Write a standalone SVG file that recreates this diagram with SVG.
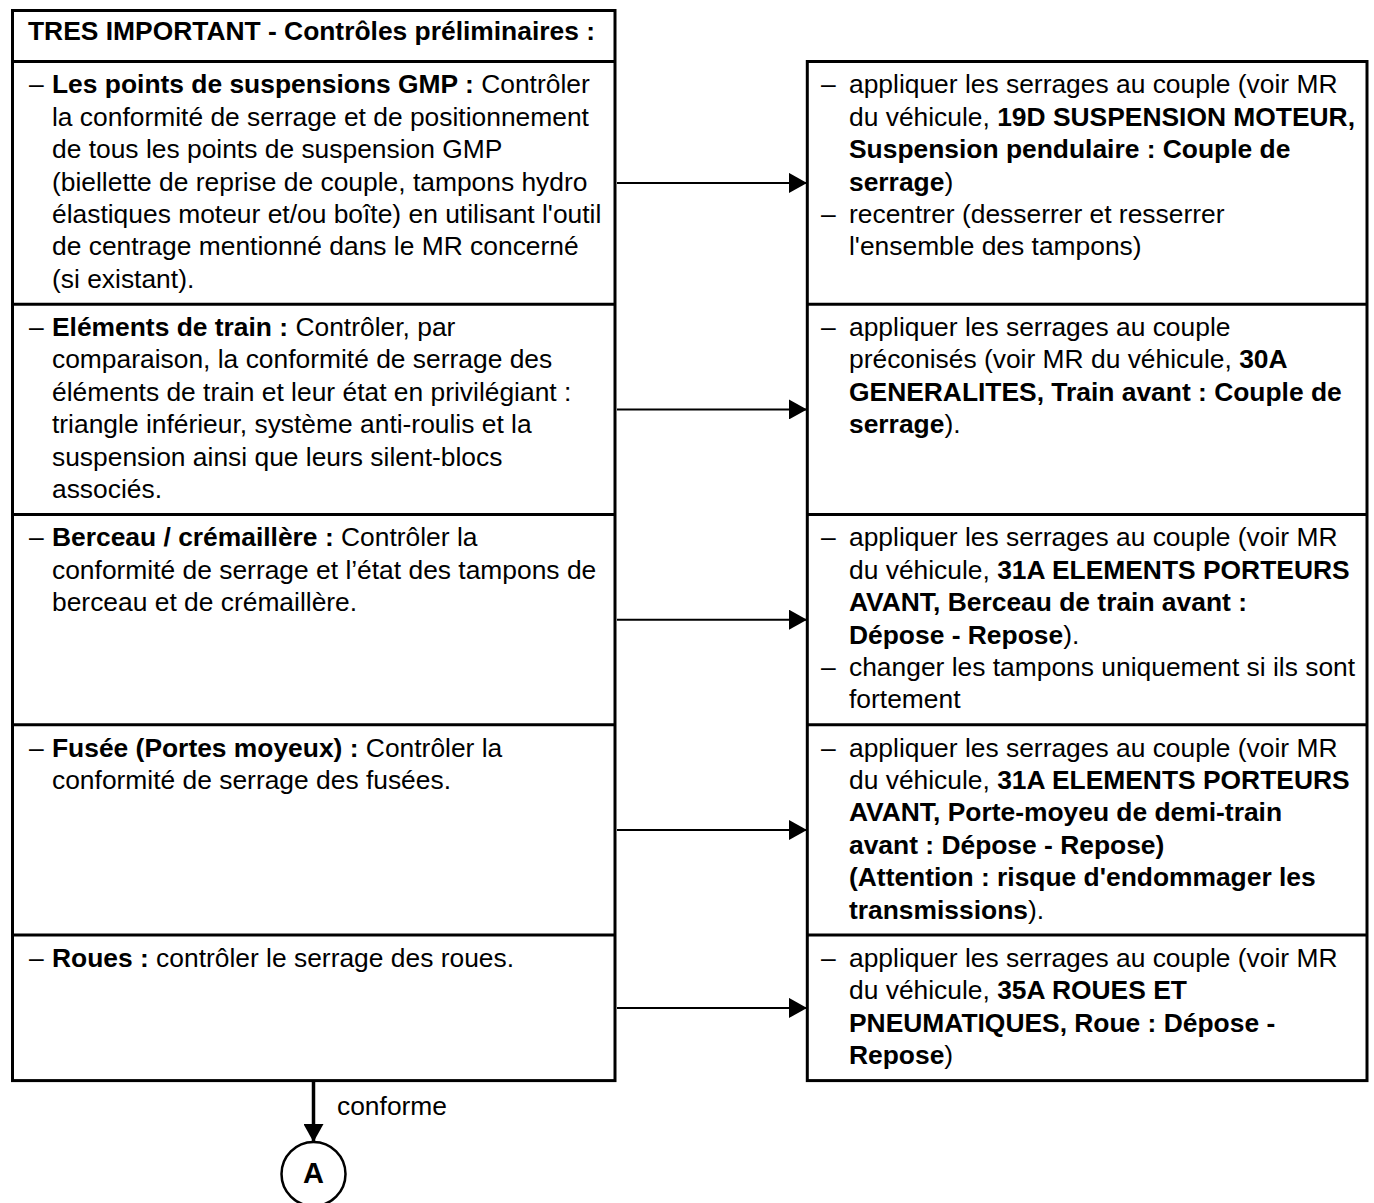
<svg xmlns="http://www.w3.org/2000/svg" width="1374" height="1203" viewBox="0 0 1374 1203">
<style>
text{font-family:"Liberation Sans",Arial,sans-serif;font-size:26.4px;fill:#000}
.b{font-weight:bold}
.box{fill:#fff;stroke:#000;stroke-width:3}
.div{stroke:#000;stroke-width:3}
.con{stroke:#000;stroke-width:2;fill:none}
</style>
<defs>
<marker id="ah" markerUnits="userSpaceOnUse" markerWidth="18" markerHeight="20" refX="18" refY="10" orient="auto">
<path d="M0,0 L18,10 L0,20 Z" fill="#000"/>
</marker>
</defs>
<rect width="1374" height="1203" fill="#fff"/>

<g id="left">
<rect class="box" x="12.5" y="10.5" width="602.5" height="1070.1"/>
<line class="div" x1="12.5" y1="61.5" x2="615" y2="61.5"/>
<line class="div" x1="12.5" y1="304.2" x2="615" y2="304.2"/>
<line class="div" x1="12.5" y1="514.5" x2="615" y2="514.5"/>
<line class="div" x1="12.5" y1="724.8" x2="615" y2="724.8"/>
<line class="div" x1="12.5" y1="935.1" x2="615" y2="935.1"/>
</g>
<g id="right">
<rect class="box" x="807.3" y="61.5" width="559.7" height="1019.1"/>
<line class="div" x1="807.3" y1="304.2" x2="1367" y2="304.2"/>
<line class="div" x1="807.3" y1="514.5" x2="1367" y2="514.5"/>
<line class="div" x1="807.3" y1="724.8" x2="1367" y2="724.8"/>
<line class="div" x1="807.3" y1="935.1" x2="1367" y2="935.1"/>
</g>

<g id="header"><text class="b" x="28" y="40">TRES IMPORTANT - Contrôles préliminaires :</text></g>

<g id="check1">
<text x="29" y="93.3">–</text>
<text x="52" y="93.3"><tspan class="b">Les points de suspensions GMP :</tspan> Contrôler</text>
<text x="52" y="125.7">la conformité de serrage et de positionnement</text>
<text x="52" y="158.1">de tous les points de suspension GMP</text>
<text x="52" y="190.5">(biellette de reprise de couple, tampons hydro</text>
<text x="52" y="222.9">élastiques moteur et/ou boîte) en utilisant l'outil</text>
<text x="52" y="255.3">de centrage mentionné dans le MR concerné</text>
<text x="52" y="287.7">(si existant).</text>
</g>
<g id="check2">
<text x="29" y="336">–</text>
<text x="52" y="336"><tspan class="b">Eléments de train :</tspan> Contrôler, par</text>
<text x="52" y="368.4">comparaison, la conformité de serrage des</text>
<text x="52" y="400.8">éléments de train et leur état en privilégiant :</text>
<text x="52" y="433.2">triangle inférieur, système anti-roulis et la</text>
<text x="52" y="465.6">suspension ainsi que leurs silent-blocs</text>
<text x="52" y="498">associés.</text>
</g>
<g id="check3">
<text x="29" y="546.3">–</text>
<text x="52" y="546.3"><tspan class="b">Berceau / crémaillère :</tspan> Contrôler la</text>
<text x="52" y="578.7">conformité de serrage et l’état des tampons de</text>
<text x="52" y="611.1">berceau et de crémaillère.</text>
</g>
<g id="check4">
<text x="29" y="756.6">–</text>
<text x="52" y="756.6"><tspan class="b">Fusée (Portes moyeux) :</tspan> Contrôler la</text>
<text x="52" y="789">conformité de serrage des fusées.</text>
</g>
<g id="check5">
<text x="29" y="966.9">–</text>
<text x="52" y="966.9"><tspan class="b">Roues :</tspan> contrôler le serrage des roues.</text>
</g>

<g id="action1">
<text x="821" y="93.3">–</text>
<text x="849" y="93.3">appliquer les serrages au couple (voir MR</text>
<text x="849" y="125.7">du véhicule, <tspan class="b">19D SUSPENSION MOTEUR,</tspan></text>
<text x="849" y="158.1" class="b">Suspension pendulaire : Couple de</text>
<text x="849" y="190.5"><tspan class="b">serrage</tspan>)</text>
<text x="821" y="222.9">–</text>
<text x="849" y="222.9">recentrer (desserrer et resserrer</text>
<text x="849" y="255.3">l'ensemble des tampons)</text>
</g>
<g id="action2">
<text x="821" y="336">–</text>
<text x="849" y="336">appliquer les serrages au couple</text>
<text x="849" y="368.4">préconisés (voir MR du véhicule, <tspan class="b">30A</tspan></text>
<text x="849" y="400.8" class="b">GENERALITES, Train avant : Couple de</text>
<text x="849" y="433.2"><tspan class="b">serrage</tspan>).</text>
</g>
<g id="action3">
<text x="821" y="546.3">–</text>
<text x="849" y="546.3">appliquer les serrages au couple (voir MR</text>
<text x="849" y="578.7">du véhicule, <tspan class="b">31A ELEMENTS PORTEURS</tspan></text>
<text x="849" y="611.1" class="b">AVANT, Berceau de train avant :</text>
<text x="849" y="643.5"><tspan class="b">Dépose - Repose</tspan>).</text>
<text x="821" y="675.9">–</text>
<text x="849" y="675.9">changer les tampons uniquement si ils sont</text>
<text x="849" y="708.3">fortement</text>
</g>
<g id="action4">
<text x="821" y="756.6">–</text>
<text x="849" y="756.6">appliquer les serrages au couple (voir MR</text>
<text x="849" y="789">du véhicule, <tspan class="b">31A ELEMENTS PORTEURS</tspan></text>
<text x="849" y="821.4" class="b">AVANT, Porte-moyeu de demi-train</text>
<text x="849" y="853.8" class="b">avant : Dépose - Repose)</text>
<text x="849" y="886.2" class="b">(Attention : risque d'endommager les</text>
<text x="849" y="918.6"><tspan class="b">transmissions</tspan>).</text>
</g>
<g id="action5">
<text x="821" y="966.9">–</text>
<text x="849" y="966.9">appliquer les serrages au couple (voir MR</text>
<text x="849" y="999.3">du véhicule, <tspan class="b">35A ROUES ET</tspan></text>
<text x="849" y="1031.7" class="b">PNEUMATIQUES, Roue : Dépose -</text>
<text x="849" y="1064.1"><tspan class="b">Repose</tspan>)</text>
</g>

<g id="nodeA">
<circle cx="313.5" cy="1174" r="32" fill="#fff" stroke="#000" stroke-width="2.5"/>
<text class="b" x="313.5" y="1183" text-anchor="middle" style="font-size:29px">A</text>
</g>

<g id="connectors">
<line class="con" x1="617" y1="182.9" x2="807" y2="182.9" marker-end="url(#ah)"/>
<line class="con" x1="617" y1="409.4" x2="807" y2="409.4" marker-end="url(#ah)"/>
<line class="con" x1="617" y1="619.7" x2="807" y2="619.7" marker-end="url(#ah)"/>
<line class="con" x1="617" y1="830" x2="807" y2="830" marker-end="url(#ah)"/>
<line class="con" x1="617" y1="1007.9" x2="807" y2="1007.9" marker-end="url(#ah)"/>
<line x1="313.5" y1="1082" x2="313.5" y2="1142" stroke="#000" stroke-width="3.5" marker-end="url(#ah)"/>
<text x="337" y="1115">conforme</text>
</g>
</svg>
